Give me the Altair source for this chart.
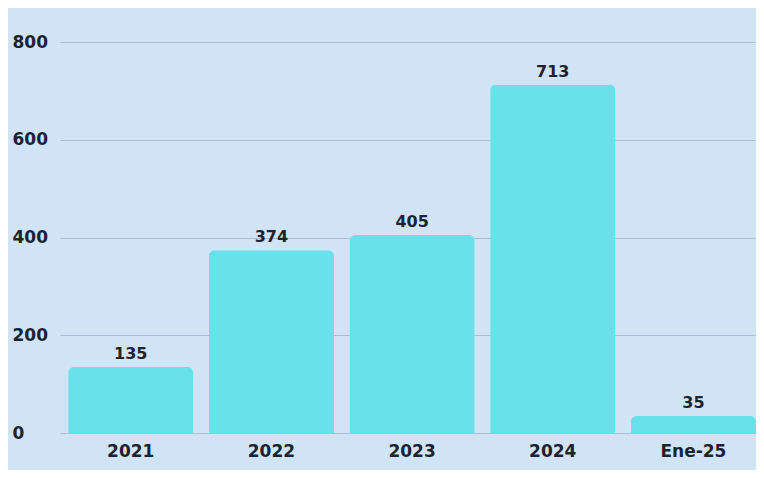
import altair as alt
import pandas as pd

categories = ["2021", "2022", "2023", "2024", "Ene-25"]
values = [135, 374, 405, 713, 35]
y_ticks = [0, 200, 400, 600, 800]

df = pd.DataFrame({"periodo": categories, "cantidad": values})

FONT = "DejaVu Sans"
DARK = "#1b2230"

x = alt.X(
    "periodo:N",
    sort=categories,
    scale=alt.Scale(paddingInner=0.11, paddingOuter=0.029, align=1),
    axis=alt.Axis(
        title=None, labelAngle=0, ticks=False, domain=False,
        labelFont=FONT, labelFontSize=17, labelFontWeight="bold",
        labelColor=DARK, labelPadding=10, grid=False,
    ),
)
y = alt.Y(
    "cantidad:Q",
    scale=alt.Scale(domain=[0, 800], nice=False),
    axis=alt.Axis(
        title=None, values=y_ticks, ticks=False, domain=False,
        labelFont=FONT, labelFontSize=17, labelFontWeight="bold",
        labelColor=DARK, labelAlign="left", labelPadding=48,
        gridColor="#a9bed4", gridWidth=1,
    ),
)

bars = alt.Chart(df).mark_bar(
    color="#69e1e9", cornerRadiusTopLeft=6, cornerRadiusTopRight=6
).encode(x=x, y=y)

labels = alt.Chart(df).mark_text(
    font=FONT, fontSize=16, fontWeight="bold", color=DARK,
    baseline="alphabetic", dy=-8,
).encode(x=x, y=y, text="cantidad:Q")

chart = (
    (bars + labels)
    .properties(
        width=696, height=391, background="#d1e4f5",
        autosize=alt.AutoSizeParams(type="none"),
        padding={"left": 52, "top": 34, "right": 0, "bottom": 37},
    )
    .configure_view(stroke=None)
)

chart.save("out.html", embed_options={"renderer": "svg", "actions": False})
